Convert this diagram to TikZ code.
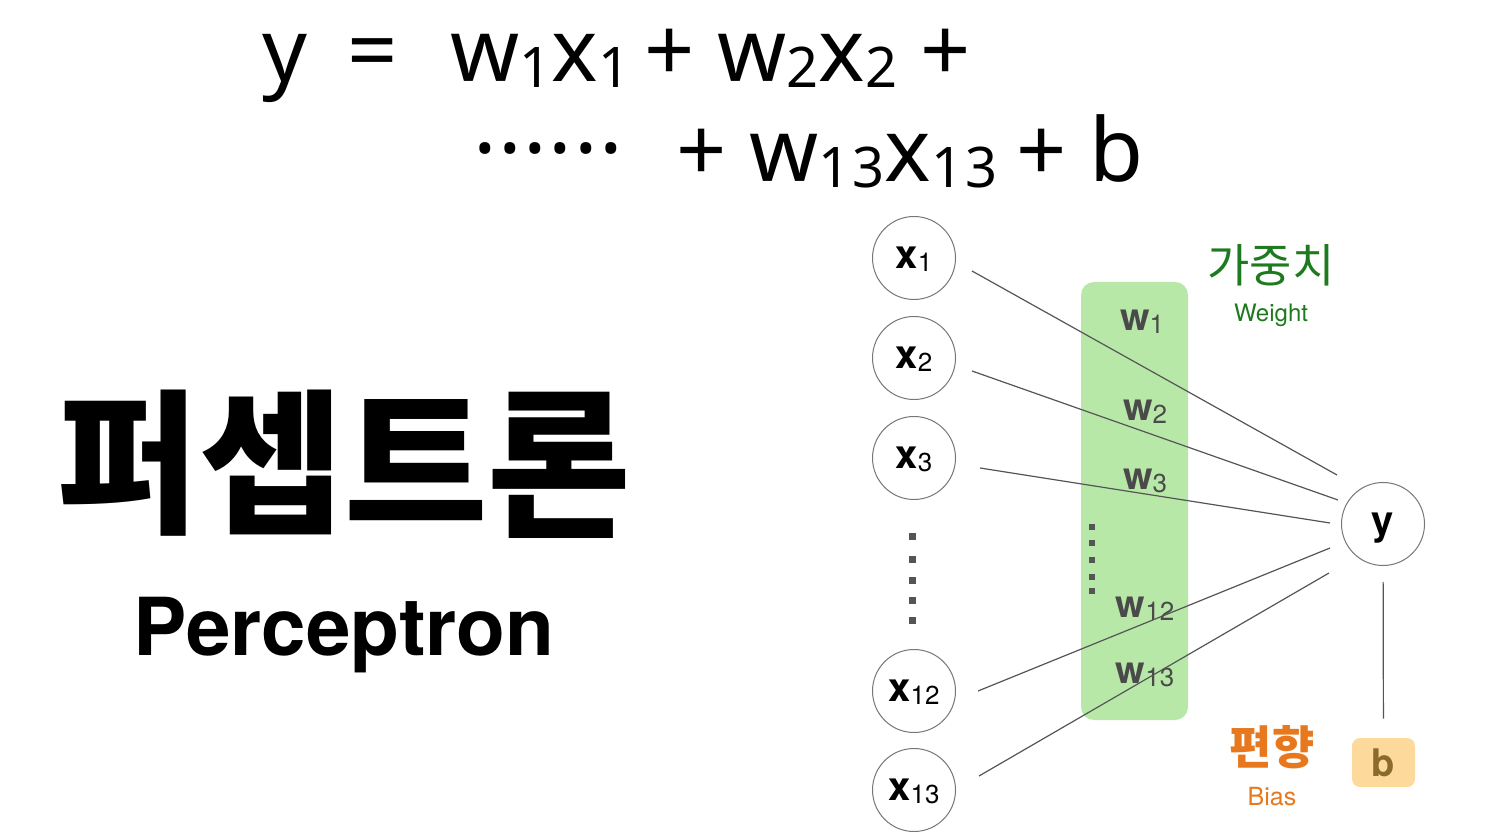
\documentclass[tikz,border=0pt]{standalone}
\usepackage{fontspec}
\setmainfont{TeX Gyre Heros}
\newfontfamily\eqf{Noto Sans}
\newfontfamily\kr{Noto Sans CJK KR}
\newcommand\esub[1]{\raisebox{-3pt}{\fontsize{28}{28}\selectfont #1}}
\newcommand\lsub[1]{\raisebox{-1.5pt}{\fontsize{13}{13}\mdseries\selectfont #1}}
\definecolor{wgreen}{HTML}{B8E8A8}
\definecolor{kgreen}{HTML}{1E7A1E}
\definecolor{korange}{HTML}{E8781E}
\definecolor{bfill}{HTML}{FDDA9B}
\definecolor{btext}{HTML}{8B6A2E}
\definecolor{lgray}{HTML}{555555}
\definecolor{wlab}{HTML}{4A4A4A}
\tikzset{
  neuron/.style={circle, draw=lgray!80, line width=0.5pt, minimum size=41.5pt, inner sep=0pt, text depth=0pt, font=\fontsize{20}{20}\bfseries\selectfont},
  wlabel/.style={inner sep=0pt, text=wlab, font=\fontsize{19}{19}\bfseries\selectfont},
  link/.style={draw=lgray, line width=0.6pt},
  eqtext/.style={inner sep=0pt, anchor=base west, font=\eqf\fontsize{44}{44}\selectfont},
  dotbig/.style={fill=lgray, minimum size=3.5pt, inner sep=0pt},
  dotsmall/.style={fill=lgray, minimum size=2.6pt, inner sep=0pt},
}
\begin{document}
\begin{tikzpicture}[x=0.5pt,y=-0.5pt]
\useasboundingbox[fill=white] (0,0) rectangle (1486,838);

% equation
\node[eqtext] (eqy) at (262,82) {y};
\node[eqtext] (eqeq) at (347,82) {=};
\node[eqtext] (eq1) at (450,82) {w\esub{1}x\esub{1}\kern7pt+ w\esub{2}x\esub{2}\ +};
\node[eqtext] (eqdots) at (473,182) {\raisebox{1pt}{·\kern0.8pt·\kern0.8pt·\kern0.8pt·\kern0.8pt·\kern0.8pt·}};
\node[eqtext] (eq2) at (676,182) {+ w\esub{1\kern1pt3}x\esub{1\kern1pt3}\kern9.5pt+ b};

% title
\node[inner sep=0pt, anchor=base, font=\kr\bfseries\fontsize{78}{78}\selectfont] (title) at (344,522) {퍼셉트론};
\node[inner sep=0pt, anchor=base, font=\bfseries\fontsize{40}{40}\selectfont] (subtitle) at (344,655) {Perceptron};

% weight band
\fill[wgreen, rounded corners=6.5pt] (1081,282) rectangle (1188,720);

% inputs
\node[neuron] (x1) at (914,258) {x\lsub{1}};
\node[neuron] (x2) at (914,358) {x\lsub{2}};
\node[neuron] (x3) at (914,458) {x\lsub{3}};
\node[neuron] (x12) at (914,691) {x\lsub{12}};
\node[neuron] (x13) at (914,790) {x\lsub{13}};
\node[neuron] (y) at (1383,524) {y};

\foreach \yy [count=\i] in {537,559,580,600,620} \node[dotbig] (ld\i) at (912,\yy) {};
\foreach \yy [count=\i] in {527,543,560,577,591} \node[dotsmall] (rd\i) at (1092,\yy) {};

% weight labels
\node[wlabel] (w1) at (1142,322) {w\lsub{1}};
\node[wlabel] (w2) at (1145,412) {w\lsub{2}};
\node[wlabel] (w3) at (1145,481) {w\lsub{3}};
\node[wlabel] (w12) at (1145,609) {w\lsub{12}};
\node[wlabel] (w13) at (1145,675) {w\lsub{13}};

% connectors
\coordinate (s1) at (972,271);  \coordinate (e1) at (1337,475);
\coordinate (s2) at (972,371);  \coordinate (e2) at (1338,500);
\coordinate (s3) at (980,468);  \coordinate (e3) at (1330,523);
\coordinate (s12) at (978,691); \coordinate (e12) at (1330,548);
\coordinate (s13) at (979,776); \coordinate (e13) at (1329,573);
\draw[link] (s1) -- (e1);
\draw[link] (s2) -- (e2);
\draw[link] (s3) -- (e3);
\draw[link] (s12) -- (e12);
\draw[link] (s13) -- (e13);

% labels
\node[inner sep=0pt, anchor=base, text=kgreen, font=\kr\fontsize{23}{23}\selectfont] (kw) at (1271,283) {가중치};
\node[inner sep=0pt, anchor=base, text=kgreen, font=\fontsize{12}{12}\selectfont] (ew) at (1271,322) {Weight};
\node[inner sep=0pt, anchor=base, text=korange, font=\kr\bfseries\fontsize{23}{23}\selectfont] (kb) at (1272,764) {편향};
\node[inner sep=0pt, anchor=base, text=korange, font=\fontsize{12.5}{12.5}\selectfont] (eb) at (1272,805) {Bias};

% bias
\node[fill=bfill, rounded corners=4pt, minimum width=31.5pt, minimum height=24.5pt, inner sep=0pt, text=btext, font=\fontsize{19}{19}\bfseries\selectfont] (b) at (1383.5,762.5) {b};
\draw[link, shorten <=8pt, shorten >=9.5pt] (y) -- (b);
\end{tikzpicture}
\end{document}
